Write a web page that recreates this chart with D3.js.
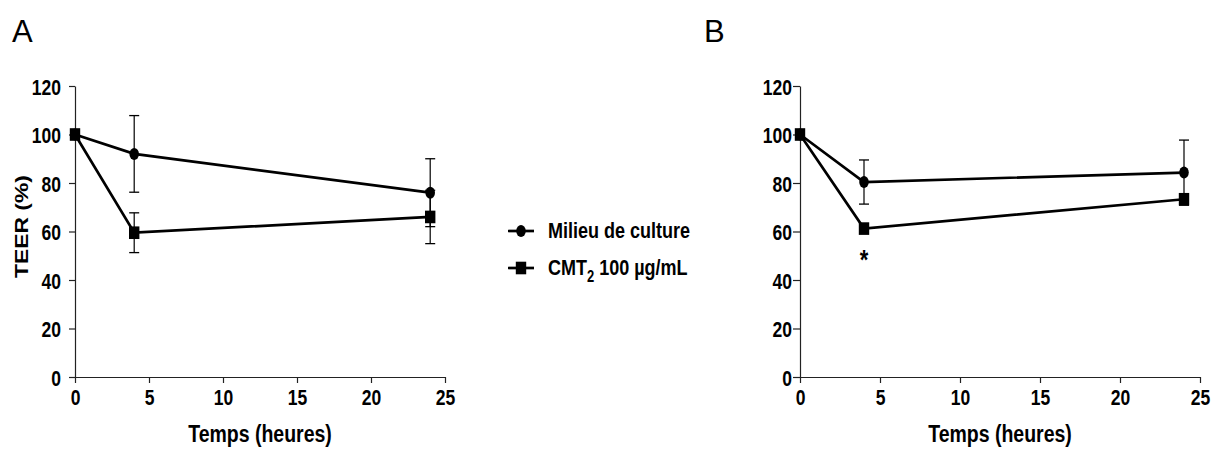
<!DOCTYPE html>
<html>
<head>
<meta charset="utf-8">
<script src="https://cdn.jsdelivr.net/npm/d3@7"></script>
<style>
  html, body { margin: 0; padding: 0; background: #fff; }
  svg { display: block; }
  text { font-family: "Liberation Sans", Arial, sans-serif; fill: #000; }
</style>
</head>
<body>
<svg id="chart" width="1214" height="450"></svg>
<script>
// ---------- data ----------
const timesHours = [0, 4, 24];
const xTicks = [0, 5, 10, 15, 20, 25];
const yTicks = [0, 20, 40, 60, 80, 100, 120];

// Panel A
const aMilieuMean = [100, 92, 76];
const aMilieuErr  = [0, 15.8, 14];
const aCmtMean    = [100, 59.5, 66];
const aCmtErr     = [0, 8.2, 11];

// Panel B
const bMilieuMean = [100, 80.4, 84.3];
const bMilieuErr  = [0, 9.1, 13.4];
const bCmtMean    = [100, 61.2, 73.3];
const bCmtErr     = [0, 1.5, 2.3];

const seriesNames = ["Milieu de culture", "CMT2 100 µg/mL"];
const panelLabels = ["A", "B"];
const xTitle = "Temps (heures)";
const yTitle = "TEER (%)";
const starIndex = 1; // significance marker at t = 4 h in panel B

// ---------- drawing ----------
const SY = 1.27; // vertical stretch of the original figure
const svg = d3.select("#chart");

function stretchedText(parent, x, y, size, anchor, weight) {
  return parent.append("text")
    .attr("transform", `translate(${x},${y}) scale(1,${SY})`)
    .attr("text-anchor", anchor)
    .style("font-weight", weight).style("font-size", size + "px");
}

function drawPanel(cfg) {
  const x = d3.scaleLinear().domain([0, 25]).range([cfg.x0, cfg.x1]);
  const y = d3.scaleLinear().domain([0, 120]).range([377, 86]);
  const g = svg.append("g");

  // axes
  const yAxis = d3.axisLeft(y).tickValues(yTicks).tickSize(cfg.yTick).tickPadding(cfg.yPad).tickSizeOuter(0);
  const gy = g.append("g").attr("transform", `translate(${cfg.x0},0)`).call(yAxis);
  const xAxis = d3.axisBottom(x).tickValues(xTicks).tickSize(6).tickPadding(4).tickSizeOuter(0);
  const gx = g.append("g").attr("transform", `translate(0,377)`).call(xAxis);
  [gx, gy].forEach(a => {
    a.select(".domain").attr("stroke", "#222").attr("stroke-width", 1.2);
    a.selectAll(".tick line").attr("stroke", "#222").attr("stroke-width", 1.2);
    a.selectAll(".tick text")
      .style("font-family", '"Liberation Sans", Arial, sans-serif')
      .style("font-weight", "bold").style("font-size", "17.5px").attr("fill", "#000");
  });
  gy.selectAll(".tick text").attr("dy", "0.36em").attr("x", 0)
    .attr("transform", `translate(${-(cfg.yTick + cfg.yPad)},0) scale(1,${SY})`);
  gx.selectAll(".tick text").attr("y", 0).attr("dy", 0)
    .attr("transform", `translate(0,27.5) scale(1,${SY})`);

  // axis titles
  stretchedText(g, (cfg.x0 + cfg.x1) / 2, 442, 19.5, "middle", "bold").text(xTitle);
  if (cfg.showYTitle) {
    g.append("text")
      .attr("transform", `translate(28,226.5) rotate(-90) scale(${SY},1)`)
      .attr("text-anchor", "middle")
      .style("font-weight", "bold").style("font-size", "18px")
      .text(yTitle);
  }

  // panel letter
  g.append("text")
    .attr("x", cfg.labelX).attr("y", 42)
    .style("font-size", "31px")
    .text(cfg.label);

  const series = [
    { mean: cfg.milieu, err: cfg.milieuErr, shape: "circle" },
    { mean: cfg.cmt, err: cfg.cmtErr, shape: "square" }
  ];

  const line = d3.line().x((d, i) => x(timesHours[i])).y(d => y(d));

  // lines
  series.forEach(s => {
    g.append("path").datum(s.mean)
      .attr("d", line).attr("fill", "none")
      .attr("stroke", "#000").attr("stroke-width", 2.7);
  });

  // error bars
  series.forEach(s => {
    const eb = g.append("g");
    s.mean.forEach((m, i) => {
      const e = s.err[i];
      if (!e) return;
      const cx = x(timesHours[i]);
      eb.append("line").attr("x1", cx).attr("x2", cx)
        .attr("y1", y(m + e)).attr("y2", y(m - e))
        .attr("stroke", "#000").attr("stroke-width", 1.2);
      [m + e, m - e].forEach(v => {
        eb.append("line").attr("x1", cx - 5).attr("x2", cx + 5)
          .attr("y1", y(v)).attr("y2", y(v))
          .attr("stroke", "#000").attr("stroke-width", 1.3);
      });
    });
  });

  // markers
  series.forEach(s => {
    s.mean.forEach((m, i) => {
      drawMarker(g, s.shape, x(timesHours[i]), y(m));
    });
  });

  if (cfg.star) {
    stretchedText(g, x(timesHours[starIndex]), y(cfg.cmt[starIndex]) + 40, 22, "middle", "bold").text("*");
  }
}

function drawMarker(parent, shape, cx, cy) {
  if (shape === "circle") {
    parent.append("ellipse").attr("cx", cx).attr("cy", cy).attr("rx", 4.8).attr("ry", 6).attr("fill", "#000");
  } else {
    parent.append("rect").attr("x", cx - 5.2).attr("y", cy - 6.3)
      .attr("width", 10.4).attr("height", 12.6).attr("fill", "#000");
  }
}

drawPanel({ x0: 75, x1: 445, yTick: 6, yPad: 8, showYTitle: true, label: panelLabels[0], labelX: 12,
  milieu: aMilieuMean, milieuErr: aMilieuErr, cmt: aCmtMean, cmtErr: aCmtErr, star: false });
drawPanel({ x0: 800, x1: 1200, yTick: 7, yPad: 1, showYTitle: false, label: panelLabels[1], labelX: 704,
  milieu: bMilieuMean, milieuErr: bMilieuErr, cmt: bCmtMean, cmtErr: bCmtErr, star: true });

// legend
const legend = svg.append("g");
const legendRows = [
  { y: 231, shape: "circle", name: seriesNames[0] },
  { y: 268, shape: "square", name: seriesNames[1] }
];
legendRows.forEach(r => {
  legend.append("line").attr("x1", 508).attr("x2", 534).attr("y1", r.y).attr("y2", r.y)
    .attr("stroke", "#000").attr("stroke-width", 2.7);
  drawMarker(legend, r.shape, 521, r.y);
  const t = stretchedText(legend, 548, r.y + 7.3, 18, "start", "bold");
  if (r.name.startsWith("CMT2")) {
    t.append("tspan").text("CMT");
    t.append("tspan").attr("dy", 5).style("font-size", "13px").text("2");
    t.append("tspan").attr("dy", -5).text(r.name.slice(4));
  } else {
    t.text(r.name);
  }
});
</script>
</body>
</html>
